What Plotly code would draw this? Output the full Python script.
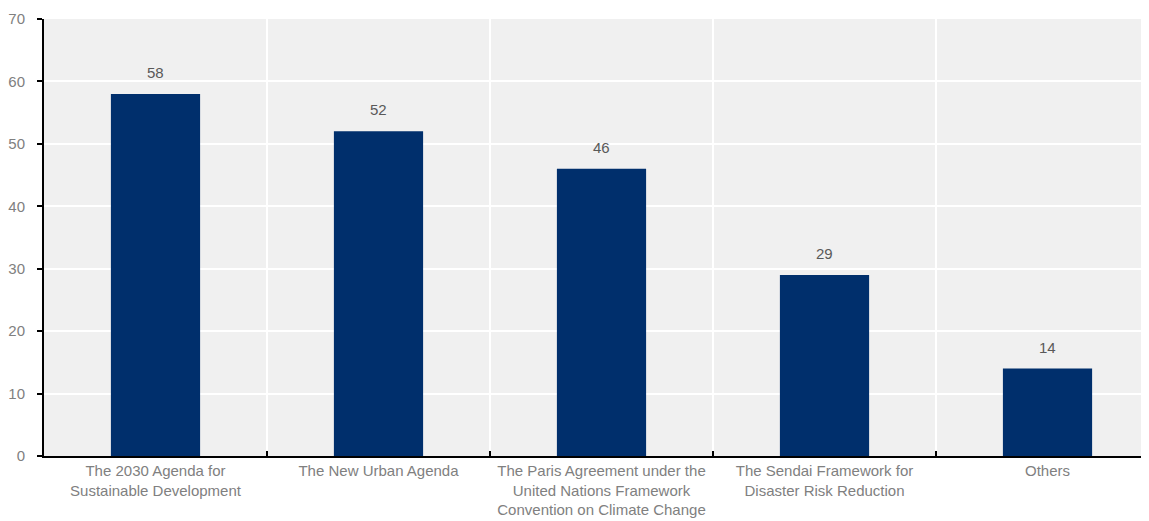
import plotly.graph_objects as go

categories = [
    "The 2030 Agenda for<br>Sustainable Development",
    "The New Urban Agenda",
    "The Paris Agreement under the<br>United Nations Framework<br>Convention on Climate Change",
    "The Sendai Framework for<br>Disaster Risk Reduction",
    "Others",
]
values = [58, 52, 46, 29, 14]
y_ticks = [0, 10, 20, 30, 40, 50, 60, 70]

FONT = "Liberation Sans, Arial, sans-serif"

fig = go.Figure()
fig.add_trace(go.Bar(
    x=categories, y=values,
    marker=dict(color="#002f6c", line=dict(width=0)),
    width=0.40,
    hoverinfo="skip",
))

for c, v in zip(categories, values):
    fig.add_annotation(x=c, y=v, text=str(v), showarrow=False,
                       yanchor="bottom", yshift=11,
                       font=dict(family=FONT, size=15, color="#595959"))

fig.update_layout(
    width=1149, height=513,
    margin=dict(l=36, r=0, t=11, b=65),
    paper_bgcolor="white",
    plot_bgcolor="#f0f0f0",
    showlegend=False,
    font=dict(family=FONT, size=15, color="#808080"),
    xaxis=dict(
        type="category",
        range=[-0.5, 4.491],
        tickson="boundaries",
        tickangle=0,
        automargin=False,
        ticks="inside", ticklen=5, tickcolor="black", tickwidth=2,
        showgrid=True, gridcolor="white", gridwidth=2,
        showline=True, linecolor="black", linewidth=2,
        tickfont=dict(family=FONT, size=15, color="#808080"),
        fixedrange=True,
    ),
    yaxis=dict(
        range=[0, 70],
        tickvals=y_ticks,
        automargin=False,
        ticks="outside", ticklen=5, tickcolor="black", tickwidth=2,
        showgrid=True, gridcolor="white", gridwidth=2,
        showline=True, linecolor="black", linewidth=2,
        zeroline=False,
        tickfont=dict(family=FONT, size=15, color="#808080"),
        ticklabelstandoff=9,
        fixedrange=True,
    ),
)

fig.write_html("out.html")
